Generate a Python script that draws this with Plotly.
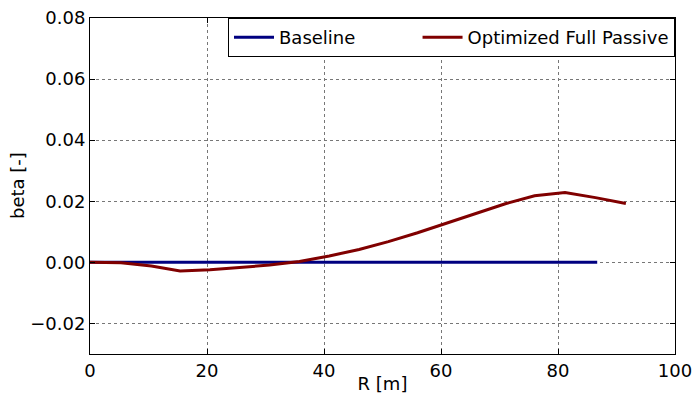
import plotly.graph_objects as go

r_base = [0, 5.3, 10.5, 15.4, 20.5, 25.6, 30.7, 35.8, 40.9, 46.0, 51.0, 56.0, 61.0, 66.0, 71.0, 76.0, 81.2, 86.7]
beta_base = [0.0] * len(r_base)

r_opt = [0, 5.3, 10.5, 15.4, 20.5, 25.6, 30.7, 35.8, 40.9, 46.0, 51.0, 56.0, 61.0, 66.0, 71.0, 76.0, 81.2, 86.4, 91.6]
beta_opt = [0.0, -0.0001, -0.0012, -0.0028, -0.0024, -0.0017, -0.0009, 0.0003, 0.0021, 0.0042,
            0.0068, 0.0097, 0.0128, 0.0160, 0.0192, 0.0218, 0.0229, 0.0212, 0.0193]

x_ticks = [0, 20, 40, 60, 80, 100]
y_ticks = [-0.02, 0.00, 0.02, 0.04, 0.06, 0.08]

font = dict(family="DejaVu Sans", size=18, color="black")
NB = "\u00a0"

fig = go.Figure()
fig.add_trace(go.Scatter(x=r_base, y=beta_base, mode="lines", name="Baseline" + NB * 10,
                         line=dict(color="#000080", width=3)))
fig.add_trace(go.Scatter(x=r_opt, y=beta_opt, mode="lines", name="Optimized Full Passive",
                         line=dict(color="#800000", width=3)))

axis_common = dict(showline=True, linecolor="black", linewidth=1, mirror="allticks",
                   ticks="inside", ticklen=5, tickcolor="black",
                   showgrid=True, gridcolor="#777777", griddash="dot", gridwidth=1,
                   zeroline=False, tickfont=font, automargin=False)

fig.update_xaxes(range=[0, 100], tickvals=x_ticks, ticktext=[str(v) for v in x_ticks],
                 title=dict(text="R [m]", font=font, standoff=6), **axis_common)
fig.update_yaxes(range=[-0.03, 0.08], tickvals=y_ticks,
                 ticktext=[("\u2212" if v < 0 else "") + f"{abs(v):.2f}" for v in y_ticks],
                 **axis_common)

fig.add_annotation(text="beta [-]", xref="paper", yref="paper", x=0, y=0.5,
                   xanchor="center", yanchor="middle", xshift=-73, textangle=-90,
                   showarrow=False, font=font)

fig.update_layout(
    width=693, height=394,
    margin=dict(l=90, r=18, t=18, b=40),
    plot_bgcolor="white", paper_bgcolor="white",
    font=font,
    showlegend=True,
    legend=dict(orientation="h", x=1, xanchor="right", y=1, yanchor="top",
                bordercolor="black", borderwidth=1, bgcolor="white",
                font=font, itemwidth=40),
)

fig.write_html("out.html", config={"displayModeBar": False},
               post_script="document.body.style.margin='0';document.body.style.overflow='hidden';")
